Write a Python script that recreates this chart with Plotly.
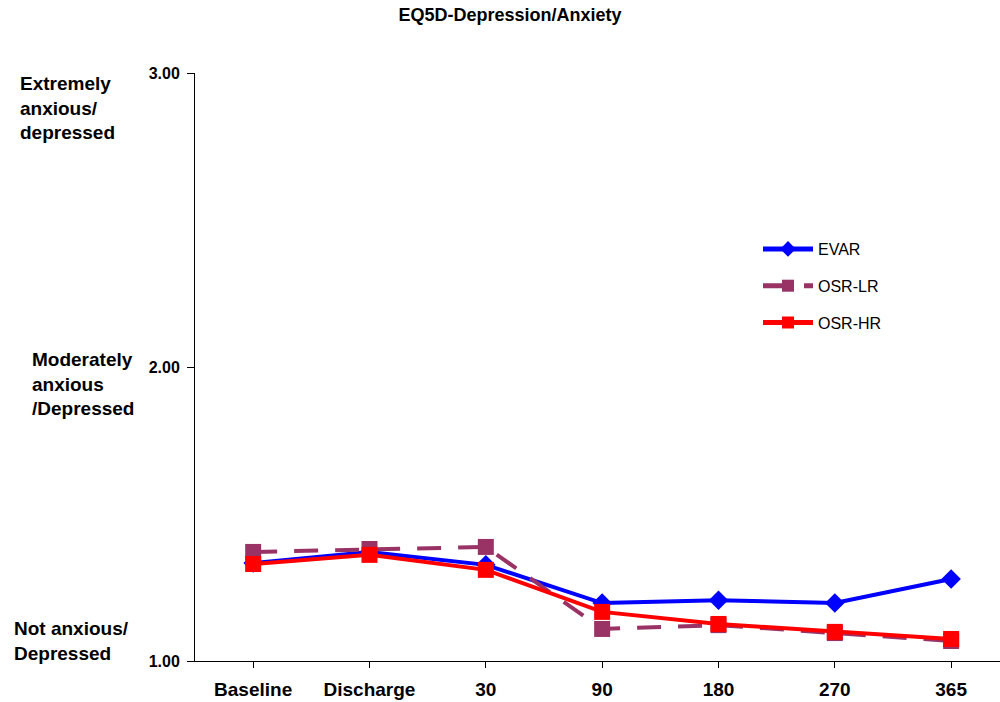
import plotly.graph_objects as go

categories = ["Baseline", "Discharge", "30", "90", "180", "270", "365"]
evar = [1.333, 1.371, 1.327, 1.197, 1.207, 1.197, 1.279]
osr_lr = [1.371, 1.381, 1.388, 1.109, 1.122, 1.095, 1.068]
osr_hr = [1.330, 1.361, 1.310, 1.167, 1.126, 1.099, 1.075]
y_ticks = [1, 2, 3]
y_tick_labels = ["1.00", "2.00", "3.00"]
# (top pixel row, text, left pixel column)
level_labels = [(71, "Extremely<br>anxious/<br>depressed", 18),
                (347, "Moderately<br>anxious<br>/Depressed", 30),
                (616, "Not anxious/<br>Depressed", 12)]

xs = list(range(len(categories)))
fig = go.Figure()
fig.add_trace(go.Scatter(x=xs, y=evar, name="EVAR", mode="lines+markers", legendgroup="a",
                         line=dict(color="#0000FF", width=4),
                         marker=dict(symbol="diamond", size=15, color="#0000FF")))
fig.add_trace(go.Scatter(x=xs, y=osr_lr, name="OSR-LR", mode="lines+markers", legendgroup="b",
                         line=dict(color="#993366", width=4, dash="24px,17px"),
                         marker=dict(symbol="square", size=16, color="#993366")))
fig.add_trace(go.Scatter(x=xs, y=osr_hr, name="OSR-HR", mode="lines+markers", legendgroup="c",
                         line=dict(color="#FF0000", width=4),
                         marker=dict(symbol="square", size=16, color="#FF0000")))

plot_w = 1000 - 195
plot_h = 661 - 73
for py, txt, xp in level_labels:
    fig.add_annotation(x=(xp - 195) / plot_w, xref="paper", y=1 - (py - 73) / plot_h, yref="paper",
                       text="<b>" + txt + "</b>",
                       showarrow=False, xanchor="left", yanchor="top", align="left",
                       font=dict(size=19, color="black", family="Liberation Sans, Arial"))

fig.update_layout(
    width=1000, height=702,
    margin=dict(l=195, r=0, t=73, b=41),
    paper_bgcolor="white", plot_bgcolor="white",
    font=dict(family="Liberation Sans, Arial", color="black"),
    title=dict(text="<b>EQ5D-Depression/Anxiety</b>", x=0.51, xanchor="center", y=0.988, yanchor="top",
               font=dict(size=18, color="black")),
    showlegend=True,
    legend=dict(x=(758 - 195) / plot_w, y=1 - (232 - 73) / plot_h, xanchor="left", yanchor="top",
                font=dict(size=16, color="black"), tracegroupgap=13, itemwidth=50,
                itemsizing="constant", bgcolor="rgba(0,0,0,0)"),
    xaxis=dict(range=[-0.5, 6.42], tickmode="array", tickvals=xs,
               ticktext=["<b>" + c + "</b>" for c in categories],
               showline=True, linecolor="black", linewidth=1, showgrid=False, zeroline=False,
               ticks="outside", ticklen=6, tickcolor="black", tickson="boundaries",
               ticklabelstandoff=5,
               tickfont=dict(size=19, color="black")),
    yaxis=dict(range=[1, 3], tickmode="array", tickvals=y_ticks,
               ticktext=["<b>" + t + "</b>" for t in y_tick_labels],
               showline=True, linecolor="black", linewidth=1, showgrid=False, zeroline=False,
               ticks="outside", ticklen=7, tickcolor="black", ticklabelstandoff=4,
               tickfont=dict(size=16, color="black")),
)
fig.write_html("out.html")
